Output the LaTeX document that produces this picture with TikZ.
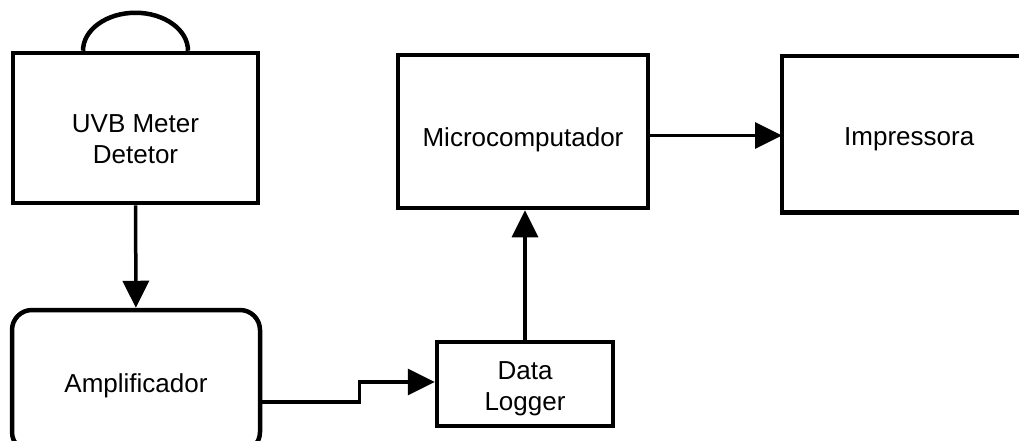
\documentclass[tikz,border=0pt]{standalone}
\usepackage{fontspec}
\setmainfont{Liberation Sans}
\usetikzlibrary{arrows.meta}
\newcommand\tpad[1]{\rule{0pt}{#1pt}}
\begin{document}
\begin{tikzpicture} [x=1pt,y=-1pt,font=\fontsize{26}{31}\selectfont,
    blk/.style={draw,line width=4.5pt,align=center,inner sep=0pt},
    arr/.style={line width=3.5pt,-{Triangle[length=27pt,width=26pt]}}]
\useasboundingbox (0,0) rectangle (1019,440);
\clip (0,0) rectangle (1019,440);
%blocks
        \node[blk,minimum width=245,minimum height=150] (uvb) at (135.5,128) {\tpad{41}UVB Meter\\Detetor};
        \draw [line width=4.5pt] ([xshift=-52.5pt]uvb.north) arc [start angle=180,end angle=360,x radius=52.5,y radius=38];
        \node[blk,rounded corners=20pt,minimum width=248,minimum height=142] (amp) at (136,381) {\tpad{29}Amplificador};
        \node[blk,minimum width=176,minimum height=84] (dl) at (525,384) {\tpad{27}Data\\Logger};
        \node[blk,minimum width=250,minimum height=153] (micro) at (523,131.5) {\tpad{35}Microcomputador};
        \node[blk,draw=none,anchor=west,minimum width=250,minimum height=152,inner xsep=54pt,align=left] (impr) at (782,134) {\tpad{29}Impressora};
        \draw [line width=4.5pt] ([xshift=60pt]impr.north east) -| (impr.south west) -- ([xshift=60pt]impr.south east);
%links
        \draw [arr] (uvb) -- (amp);
        \draw [arr] ([yshift=-21pt]amp.east) -- ++(97,0) |- ([yshift=2pt]dl.west);
        \draw [arr] (dl.north) -- (dl.north |- micro.south);
        \draw [arr] ([yshift=-4pt]micro.east) -- ([yshift=-4pt]micro.east -| impr.west);
    \end{tikzpicture}
\end{document}
